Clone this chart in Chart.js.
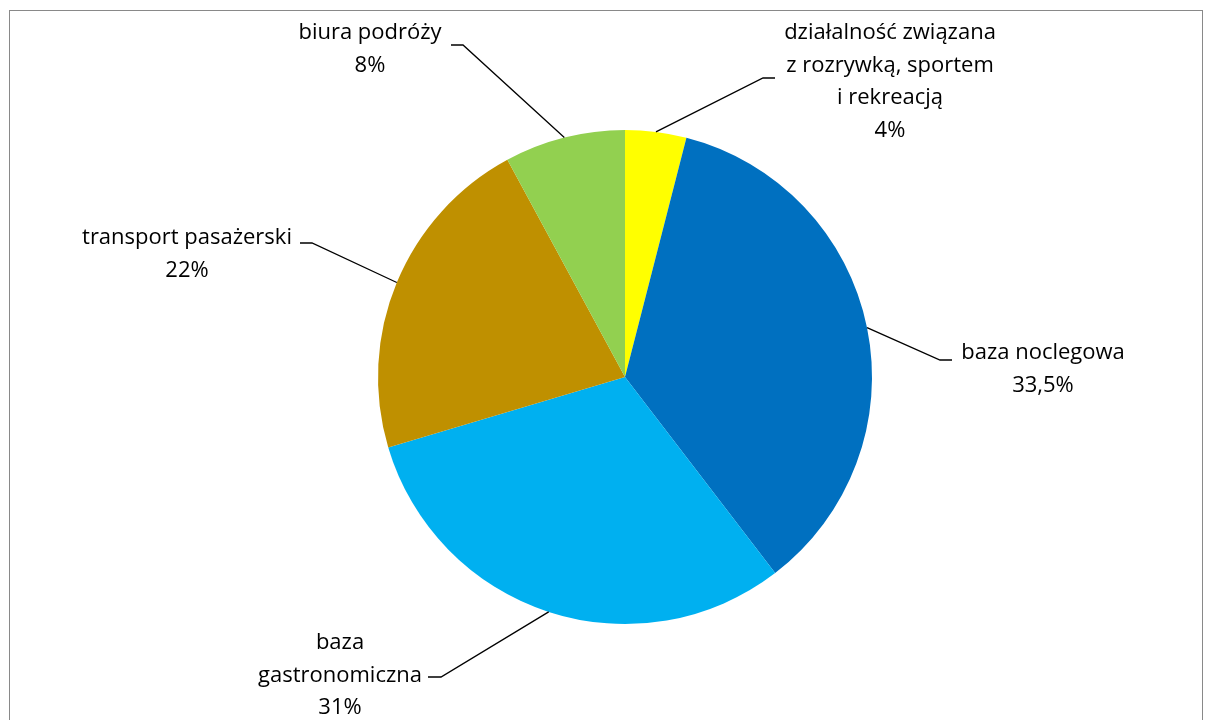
<!DOCTYPE html>
<html>
<head>
<meta charset="utf-8">
<script src="https://cdn.jsdelivr.net/npm/chart.js@4.4.1/dist/chart.umd.min.js"></script>
<style>
  html, body { margin: 0; padding: 0; background: #fff; }
  #wrap { width: 1206px; height: 720px; position: relative; }
</style>
</head>
<body>
<div id="wrap"><canvas id="pie"></canvas></div>
<script>
  "use strict";
  // slices, clockwise from 12 o'clock
  var categories = [
    "działalność związana z rozrywką, sportem i rekreacją",
    "baza noclegowa",
    "baza gastronomiczna",
    "transport pasażerski",
    "biura podróży"
  ];
  var shares = [4.0, 35.6, 30.8, 21.7, 7.9];
  var shareLabels = ["4%", "33,5%", "31%", "22%", "8%"];
  var sliceColors = ["#FFFF00", "#0070C0", "#00B0F0", "#BF9000", "#92D050"];

  // label boxes: text lines, centre x, first line y, elbow and tick end of the leader
  var labelLayout = [
    { lines: ["działalność związana", "z rozrywką, sportem", "i rekreacją"], x: 890, y: 33, elbow: [763, 78], tick: [775, 78] },
    { lines: ["baza noclegowa"], x: 1043, y: 353, elbow: [940, 360], tick: [952, 360] },
    { lines: ["baza", "gastronomiczna"], x: 340, y: 643, elbow: [441, 677], tick: [428, 677] },
    { lines: ["transport pasażerski"], x: 187, y: 238, elbow: [312, 243], tick: [300, 243] },
    { lines: ["biura podróży"], x: 370, y: 33, elbow: [463, 45], tick: [451, 45] }
  ];
  var lineGap = 32.5;
  var fontSpec = '22px "Open Sans", sans-serif';

  var frame = {
    id: "frame",
    beforeDraw: function (c) {
      var g = c.ctx;
      g.save();
      g.fillStyle = "#fff";
      g.fillRect(0, 0, c.width, c.height);
      g.strokeStyle = "#898989";
      g.lineWidth = 1;
      g.strokeRect(9.5, 10.5, 1193, 720);
      g.restore();
    }
  };

  var leaders = {
    id: "leaders",
    afterDraw: function (c) {
      var g = c.ctx,
        arcs = c.getDatasetMeta(0).data;
      g.save();
      g.strokeStyle = "#000";
      g.lineWidth = 1.3;
      g.fillStyle = "#000";
      g.font = fontSpec;
      g.textAlign = "center";
      g.textBaseline = "middle";
      arcs.forEach(function (a, i) {
        var p = a.getProps(["x", "y", "startAngle", "endAngle", "outerRadius"], true),
          mid = (p.startAngle + p.endAngle) / 2,
          L = labelLayout[i];
        g.beginPath();
        g.moveTo(p.x + Math.cos(mid) * p.outerRadius, p.y + Math.sin(mid) * p.outerRadius);
        g.lineTo(L.elbow[0], L.elbow[1]);
        g.lineTo(L.tick[0], L.tick[1]);
        g.stroke();
        L.lines.concat([shareLabels[i]]).forEach(function (t, k) {
          g.fillText(t, L.x, L.y + k * lineGap);
        });
      });
      g.restore();
    }
  };

  new Chart(document.getElementById("pie").getContext("2d"), {
    type: "pie",
    data: {
      labels: categories,
      datasets: [{ data: shares, backgroundColor: sliceColors, borderWidth: 0 }]
    },
    options: {
      responsive: true,
      maintainAspectRatio: false,
      animation: false,
      layout: { padding: { left: 378, right: 334, top: 130, bottom: 96 } },
      plugins: { legend: { display: false }, tooltip: { enabled: false } }
    },
    plugins: [frame, leaders]
  });
</script>
</body>
</html>
